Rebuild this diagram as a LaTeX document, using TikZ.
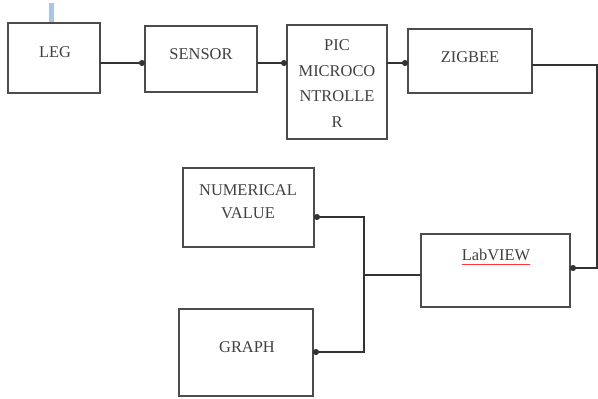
\documentclass[tikz,border=0pt]{standalone}
\usepackage{fontspec}
\setmainfont{Liberation Serif}
\usetikzlibrary{arrows.meta}
\begin{document}
\begin{tikzpicture}[x=1bp,y=-1bp,
  blk/.style={draw=black!70,line width=1.4bp,inner sep=0pt,outer sep=0pt,fill=white},
  txt/.style={text=black!75,font=\fontsize{16.5}{25.5}\selectfont,inner sep=0pt,align=center},
  conn/.style={draw=black!80,line width=1.3bp,-{Circle[length=6bp,width=6bp]}},
  wire/.style={draw=black!80,line width=1.3bp}]
\useasboundingbox[fill=white] (0,0) rectangle (598,398);
% blue mark
\definecolor{markblue}{HTML}{A9C6E8}
\fill[markblue] (49,3) rectangle (54,23);
% boxes
\node[blk,minimum width=92bp,minimum height=70bp] (leg) at (54,58) {};
\node[blk,minimum width=112bp,minimum height=66bp] (sensor) at (201,59) {};
\node[blk,minimum width=100bp,minimum height=114bp] (pic) at (337,82) {};
\node[blk,minimum width=124bp,minimum height=64bp] (zig) at (470,61) {};
\node[blk,minimum width=149bp,minimum height=73bp] (lab) at (495.5,270.5) {};
\node[blk,minimum width=131bp,minimum height=79bp] (num) at (248.5,207.5) {};
\node[blk,minimum width=134bp,minimum height=87bp] (graph) at (246,352.5) {};
% texts
\node[txt] (tleg) at (55,52) {LEG};
\node[txt] (tsensor) at (201,54) {SENSOR};
\node[txt] (tpic) at (337,83.5) {PIC\\MICROCO\\NTROLLE\\R};
\node[txt] (tzig) at (470,57) {ZIGBEE};
\node[txt] (tlab) at (496,255) {LabVIEW};
\node[txt,font=\fontsize{16.5}{23}\selectfont] (tnum) at (248,201.5) {NUMERICAL\\VALUE};
\node[txt] (tgraph) at (247,347) {GRAPH};
\draw[red!80,line width=0.6bp] (tlab.south west) ++(0,3) -- ++(68,0);
% connectors
\draw[conn] (leg.east |- 0,63) -- (sensor.west |- 0,63);
\draw[conn] (sensor.east |- 0,63) -- (pic.west |- 0,63);
\draw[conn] (pic.east |- 0,63) -- (zig.west |- 0,63);
\coordinate (c1) at (597,65);
\coordinate (c2) at (597,268);
\draw[conn] (zig.east |- c1) -- (c1) -- (c2) -- (lab.east |- c2);
\coordinate (j) at (364,275);
\draw[wire] (lab.west |- j) -- (j);
\draw[conn] (j) |- (num.east |- 0,217);
\draw[conn] (j) |- (graph.east |- 0,352);
\end{tikzpicture}
\end{document}
